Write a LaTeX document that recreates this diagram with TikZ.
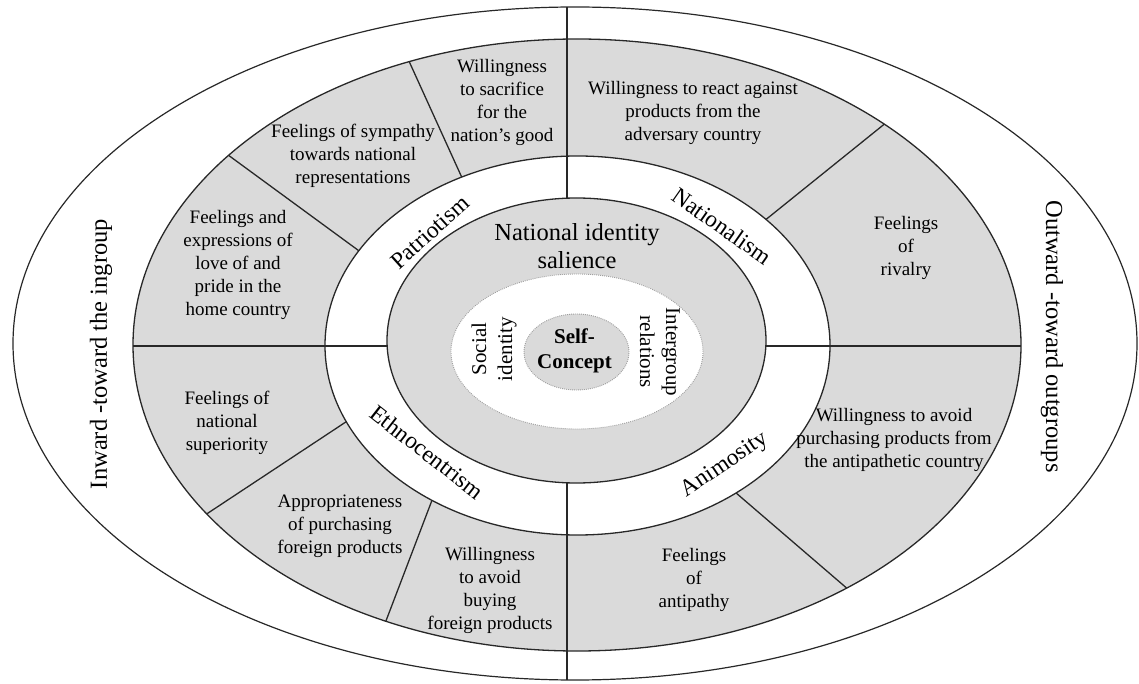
\documentclass[tikz,border=0pt]{standalone}
\usepackage{fontspec}
\setmainfont{Liberation Serif}
\usetikzlibrary{calc}
\definecolor{ringgray}{RGB}{218,218,218}
\definecolor{linegray}{RGB}{40,40,40}
\begin{document}
\begin{tikzpicture}[x=1pt,y=1pt,
  edge/.style={draw=linegray, line width=1.3pt},
  itemtext/.style={align=center, inner sep=0pt, font=\fontsize{19}{23}\selectfont},
  ringtext/.style={inner sep=0pt, font=\fontsize{23.5}{26}\selectfont},
  sidetext/.style={inner sep=0pt, font=\fontsize{24.5}{28}\selectfont},
  coretext/.style={align=center, inner sep=0pt, font=\fontsize{24.5}{28}\selectfont},
  innertext/.style={align=center, inner sep=0pt, font=\fontsize{21}{26}\selectfont},
  dots/.style={draw=gray!75, line width=0.9pt, dash pattern=on 0.9pt off 1.1pt}]
\useasboundingbox (0,0) rectangle (1139,683);
\fill[white] (0,0) rectangle (1139,683);

% centres of the nested ellipses
\coordinate (cO) at (575,339.5);
\coordinate (cG) at (577,338);
\coordinate (cW) at (577.5,337.5);
\coordinate (cN) at (576.5,342.5);
\coordinate (cS) at (577,331.5);
\coordinate (cC) at (576.5,331);

% rings, from the outside in
\draw[edge, line width=1.2pt, fill=white] (cO) ellipse [x radius=562, y radius=336.5];
\draw[edge, fill=ringgray] (cG) ellipse [x radius=444, y radius=306];
\draw[edge, fill=white] (cW) ellipse [x radius=252.5, y radius=189.5];
\draw[edge, fill=ringgray] (cN) ellipse [x radius=189.5, y radius=142.5];
\path[dots, fill=white] (cS) ellipse [x radius=126, y radius=77.5];
\path[dots, fill=ringgray] (cC) ellipse [x radius=52.5, y radius=38];

% quadrant axes
\coordinate (vTop) at (567,675.97);
\coordinate (vTopIn) at (567,484.82);
\coordinate (vBotIn) at (567,200.18);
\coordinate (vBot) at (567,3.03);
\coordinate (hL) at (133,337);
\coordinate (hLIn) at (387.14,337);
\coordinate (hRIn) at (765.86,337);
\coordinate (hR) at (1021,337);
\draw[edge] (vTop) -- (vTopIn);
\draw[edge] (vBotIn) -- (vBot);
\draw[edge] (hL) -- (hLIn);
\draw[edge] (hRIn) -- (hR);

% dividers inside the grey ring
\foreach \n/\a/\b in {d1/141.7/150.0, d2/112.2/117.3, d3/46.2/41.7,
                      d4/213.5/203.7, d5/244.5/234.8, d6/307.4/308.9} {
  \coordinate (\n o) at ($(cG)+({444*cos(\a)},{306*sin(\a)})$);
  \coordinate (\n i) at ($(cW)+({252.5*cos(\b)},{189.5*sin(\b)})$);
  \draw[edge] (\n o) -- (\n i);
}

% segment texts
\node[itemtext] (sacrifice) at (502,581) {Willingness\\to sacrifice\\for the\\nation’s good};
\node[itemtext] (sympathy) at (353,527.5) {Feelings of sympathy\\towards national\\representations};
\node[itemtext] (love) at (238,418) {Feelings and\\expressions of\\love of and\\pride in the\\home country};
\node[itemtext] (react) at (693,570) {Willingness to react against\\products from the\\adversary country};
\node[itemtext] (rivalry) at (906,435) {Feelings\\of\\rivalry};
\node[itemtext] (superiority) at (227,260) {Feelings of\\national\\superiority};
\node[itemtext] (appropriate) at (340,157) {Appropriateness\\of purchasing\\foreign products};
\node[itemtext] (buying) at (490,93) {Willingness\\to avoid\\buying\\foreign products};
\node[itemtext] (antipathy) at (694,103) {Feelings\\of\\antipathy};
\node[itemtext] (avoid) at (894,243) {Willingness to avoid\\purchasing products from\\the antipathetic country};

% ring labels
\node[ringtext, rotate=42] (patriotism) at (430,451) {Patriotism};
\node[ringtext, rotate=-35] (nationalism) at (722,457) {Nationalism};
\node[ringtext, rotate=-38] (ethno) at (427,231) {Ethnocentrism};
\node[ringtext, rotate=34] (animosity) at (725,218) {Animosity};

% core
\node[coretext] (salience) at (577,437) {National identity\\salience};
\node[innertext, font=\fontsize{21}{25}\selectfont\bfseries] (self) at (574.5,332.5) {Self-\\Concept};
\node[innertext, rotate=90] (social) at (494,334) {Social\\identity};
\node[innertext, rotate=-90] (intergroup) at (660,331) {Intergroup\\relations};

% orientation labels
\node[sidetext, rotate=90] (inward) at (101,329) {Inward -toward the ingroup};
\node[sidetext, rotate=-90] (outward) at (1052,346.5) {Outward -toward outgroups};
\end{tikzpicture}
\end{document}
